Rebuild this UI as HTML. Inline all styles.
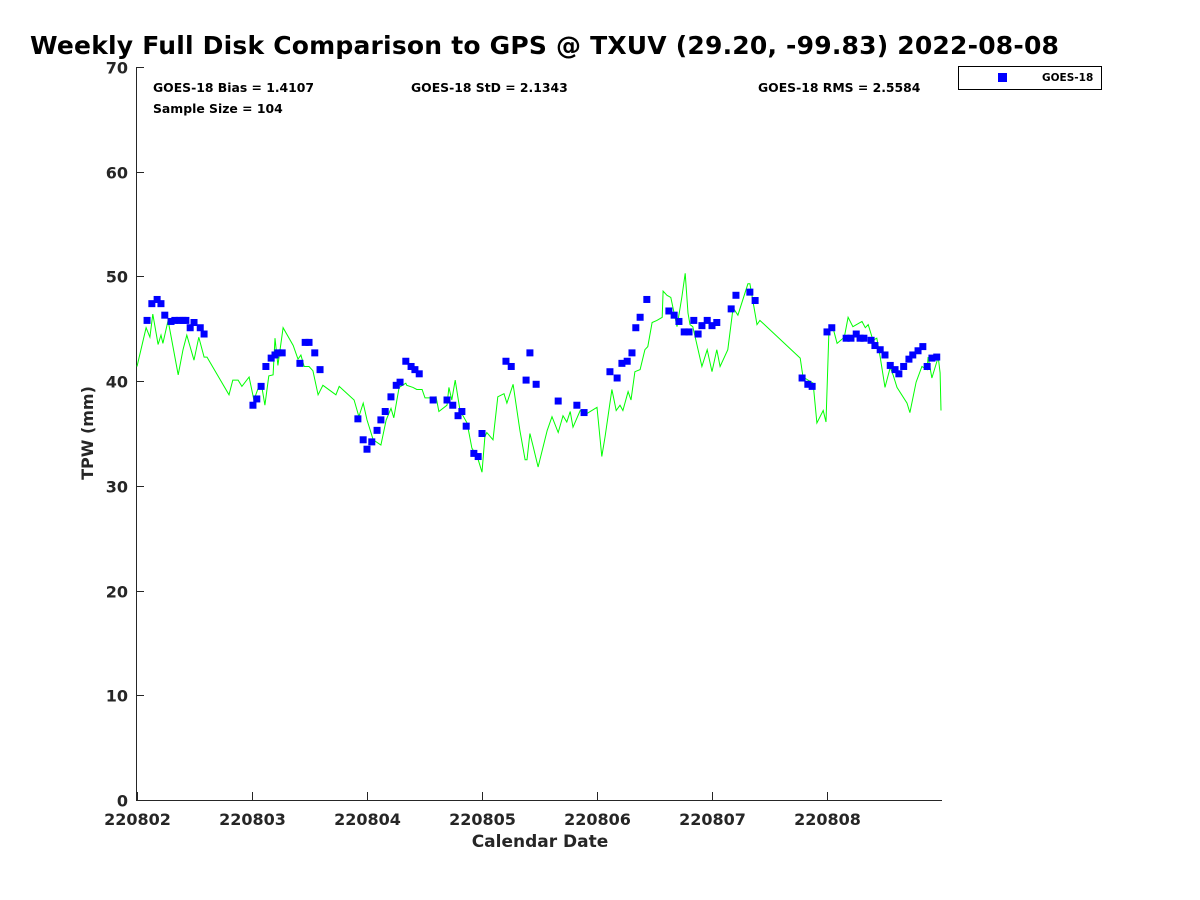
<!DOCTYPE html>
<html><head><meta charset="utf-8"><style>
body{margin:0;background:#fff;}
svg{display:block;font-family:"DejaVu Sans","Liberation Sans",sans-serif;}
</style></head><body>
<svg id="chart" width="1200" height="900" xmlns="http://www.w3.org/2000/svg">
<text x="30" y="54" font-size="25" font-weight="bold" fill="#000" letter-spacing="0.2">Weekly Full Disk Comparison to GPS @ TXUV (29.20, -99.83) 2022-08-08</text>
<g id="axes"></g>
<g id="series"></g>
<text x="153" y="92" font-size="12.4" font-weight="bold">GOES-18 Bias = 1.4107</text>
<text x="153" y="113" font-size="12.4" font-weight="bold">Sample Size = 104</text>
<text x="411" y="92" font-size="12.4" font-weight="bold">GOES-18 StD = 2.1343</text>
<text x="758" y="92" font-size="12.4" font-weight="bold">GOES-18 RMS = 2.5584</text>
<g>
<rect x="958.5" y="66.5" width="143" height="23" fill="#fff" stroke="#000" stroke-width="1"/>
<rect x="998" y="73" width="9" height="9" fill="#0000ff"/>
<text x="1042" y="81" font-size="10.5" font-weight="bold">GOES-18</text>
</g>
<text x="540" y="847" font-size="17" font-weight="bold" text-anchor="middle" fill="#262626">Calendar Date</text>
<text transform="translate(93,433) rotate(-90)" font-size="16" font-weight="bold" text-anchor="middle" fill="#262626">TPW (mm)</text>
</svg>
<script>
const xTickLabels=["220802","220803","220804","220805","220806","220807","220808"];
const yTickLabels=["0","10","20","30","40","50","60","70"];
const yTicks=[0,10,20,30,40,50,60,70];
// hours since 2022-08-02 00:00
const goesHours=[2.1,3.1,4.2,5.0,5.8,7.1,7.9,8.8,9.6,10.2,11.1,11.9,13.2,14.0,24.2,25.0,25.9,26.9,28.0,28.8,29.4,30.3,34.0,35.1,35.9,37.1,38.2,46.1,47.2,48.0,49.0,50.1,50.9,51.8,53.0,54.1,54.9,56.1,57.2,58.0,58.9,61.8,64.7,65.9,67.0,67.8,68.7,70.3,71.2,72.0,77.0,78.1,81.2,82.0,83.3,87.9,91.8,93.3,98.7,100.2,101.2,102.3,103.3,104.1,105.0,106.4,111.0,112.1,113.1,114.2,115.2,116.2,117.1,117.9,119.0,120.0,121.0,124.0,125.0,127.9,129.0,138.8,140.0,140.9,144.0,145.0,148.0,149.0,150.1,150.9,151.7,153.2,154.0,155.1,156.1,157.2,158.2,159.0,160.0,161.1,161.9,163.0,164.0,164.9,165.9,166.9];
const goesTPW=[45.8,47.4,47.8,47.4,46.3,45.7,45.8,45.8,45.8,45.8,45.1,45.6,45.1,44.5,37.7,38.3,39.5,41.4,42.2,42.5,42.7,42.7,41.7,43.7,43.7,42.7,41.1,36.4,34.4,33.5,34.2,35.3,36.3,37.1,38.5,39.6,39.9,41.9,41.4,41.1,40.7,38.2,38.2,37.7,36.7,37.1,35.7,33.1,32.8,35.0,41.9,41.4,40.1,42.7,39.7,38.1,37.7,37.0,40.9,40.3,41.7,41.9,42.7,45.1,46.1,47.8,46.7,46.3,45.7,44.7,44.7,45.8,44.5,45.3,45.8,45.3,45.6,46.9,48.2,48.5,47.7,40.3,39.7,39.5,44.7,45.1,44.1,44.1,44.5,44.1,44.1,43.9,43.4,43.0,42.5,41.5,41.1,40.7,41.4,42.1,42.5,42.9,43.3,41.4,42.2,42.3];
const gpsHours=[0,1.9,2.7,3.3,4.4,5.0,5.4,6.5,8.6,9.6,10.4,11.9,12.9,14.0,14.6,19.2,20.0,21.1,21.9,23.4,24.4,25.5,26.1,26.7,27.5,28.4,28.8,29.4,30.5,32.6,33.6,34.2,34.9,35.9,36.7,37.8,38.8,41.5,42.2,45.3,46.3,47.2,48.0,49.3,50.9,52.0,53.0,53.6,54.7,56.1,56.3,57.6,58.4,59.5,60.1,61.8,62.4,63.0,64.7,65.1,65.7,66.4,67.4,68.9,69.9,71.0,72.0,72.6,73.0,74.3,75.3,76.6,77.2,78.5,79.9,81.0,81.4,82.0,82.6,83.7,85.6,86.6,87.9,88.9,89.7,90.4,91.0,92.5,93.5,96.0,97.0,97.7,99.1,100.0,100.8,101.4,102.5,103.1,103.9,105.0,106.0,106.6,107.5,108.5,109.6,109.8,110.6,111.4,112.7,113.7,114.4,115.0,115.4,116.0,117.9,119.0,120.0,121.0,121.7,123.3,124.4,125.4,127.5,127.9,129.4,130.0,138.4,139.0,141.1,141.9,143.2,143.8,144.4,145.2,146.1,147.6,148.4,149.4,151.3,152.0,152.6,153.6,154.4,155.1,156.1,157.2,157.8,158.6,160.7,161.3,162.6,163.8,164.9,165.1,165.9,167.2,167.6,167.8];
const gpsTPW=[41.4,45.1,44.2,46.4,43.5,44.4,43.6,45.8,40.6,43.0,44.4,42.0,44.2,42.3,42.3,38.7,40.1,40.1,39.5,40.4,38.2,39.6,39.3,37.7,40.5,40.6,44.1,41.5,45.1,43.4,42.1,42.5,41.4,41.4,41.0,38.7,39.6,38.7,39.5,38.2,36.6,37.9,36.3,34.4,33.9,36.3,37.4,36.5,39.4,39.8,39.6,39.4,39.2,39.2,38.4,38.4,38.5,37.1,37.7,39.4,38.2,40.1,37.2,36.0,33.6,32.8,31.3,34.7,35.1,34.4,38.5,38.8,37.9,39.7,35.3,32.5,32.5,35.0,33.9,31.8,35.3,36.6,35.1,36.7,36.1,37.1,35.6,37.2,36.8,37.5,32.8,34.7,39.2,37.2,37.7,37.2,39.0,38.2,40.9,41.1,43.0,43.3,45.6,45.8,46.1,48.6,48.2,48.0,45.2,48.0,50.3,46.5,45.4,45.2,41.4,43.0,40.9,43.0,41.4,43.0,47.0,46.3,49.3,49.3,45.4,45.8,42.2,40.4,39.8,36.0,37.2,36.1,44.7,45.2,43.6,44.2,46.1,45.2,45.7,45.1,45.4,43.9,44.1,42.3,39.4,41.3,40.6,39.4,37.9,37.0,39.9,41.4,41.1,42.3,40.3,42.3,40.8,37.2];

const NS="http://www.w3.org/2000/svg";
const X0=137,X1=942,Y0=800,Y1=67;
const xScale=h=>X0+h/168*(X1-X0);
const yScale=v=>Y0-v/70*(Y0-Y1);
const axes=document.getElementById('axes');
const series=document.getElementById('series');
function mk(tag,attrs,parent){const e=document.createElementNS(NS,tag);for(const k in attrs)e.setAttribute(k,attrs[k]);parent.appendChild(e);return e;}

let l=mk('line',{x1:136.5,y1:Y1,x2:136.5,y2:Y0+0.5,stroke:'#262626','stroke-width':1},axes);


l=mk('line',{x1:136,y1:800.5,x2:X1,y2:800.5,stroke:'#262626','stroke-width':1},axes);



yTicks.forEach((v,i)=>{
  const y=Math.round(yScale(v))+0.5;
  const t=mk('line',{x1:136,y1:y,x2:144,y2:y,stroke:'#262626'},axes);
  
  
  const tx=mk('text',{x:128,y:y+6,'font-size':16,'font-weight':'bold','text-anchor':'end',fill:'#262626'},axes);
  tx.textContent=yTickLabels[i];
  
  
});
xTickLabels.forEach((s,i)=>{
  const x=Math.round(xScale(i*24))+0.5;
  const t=mk('line',{x1:x,y1:800,x2:x,y2:792,stroke:'#262626'},axes);
  
  
  const tx=mk('text',{x:x,y:825,'font-size':16,'font-weight':'bold','text-anchor':'middle',fill:'#262626'},axes);
  tx.textContent=s;
  
  
});

const pts=gpsHours.map((h,i)=>xScale(h).toFixed(1)+','+yScale(gpsTPW[i]).toFixed(1)).join(' ');
const pl=mk('polyline',{points:pts,fill:'none',stroke:'#00ff00','stroke-width':1},series);



goesHours.forEach((h,i)=>{
  const r=mk('rect',{x:xScale(h)-3.5,y:yScale(goesTPW[i])-3.5,width:7,height:7,fill:'#0000ff'},series);
  
  
});
</script>
</body></html>
